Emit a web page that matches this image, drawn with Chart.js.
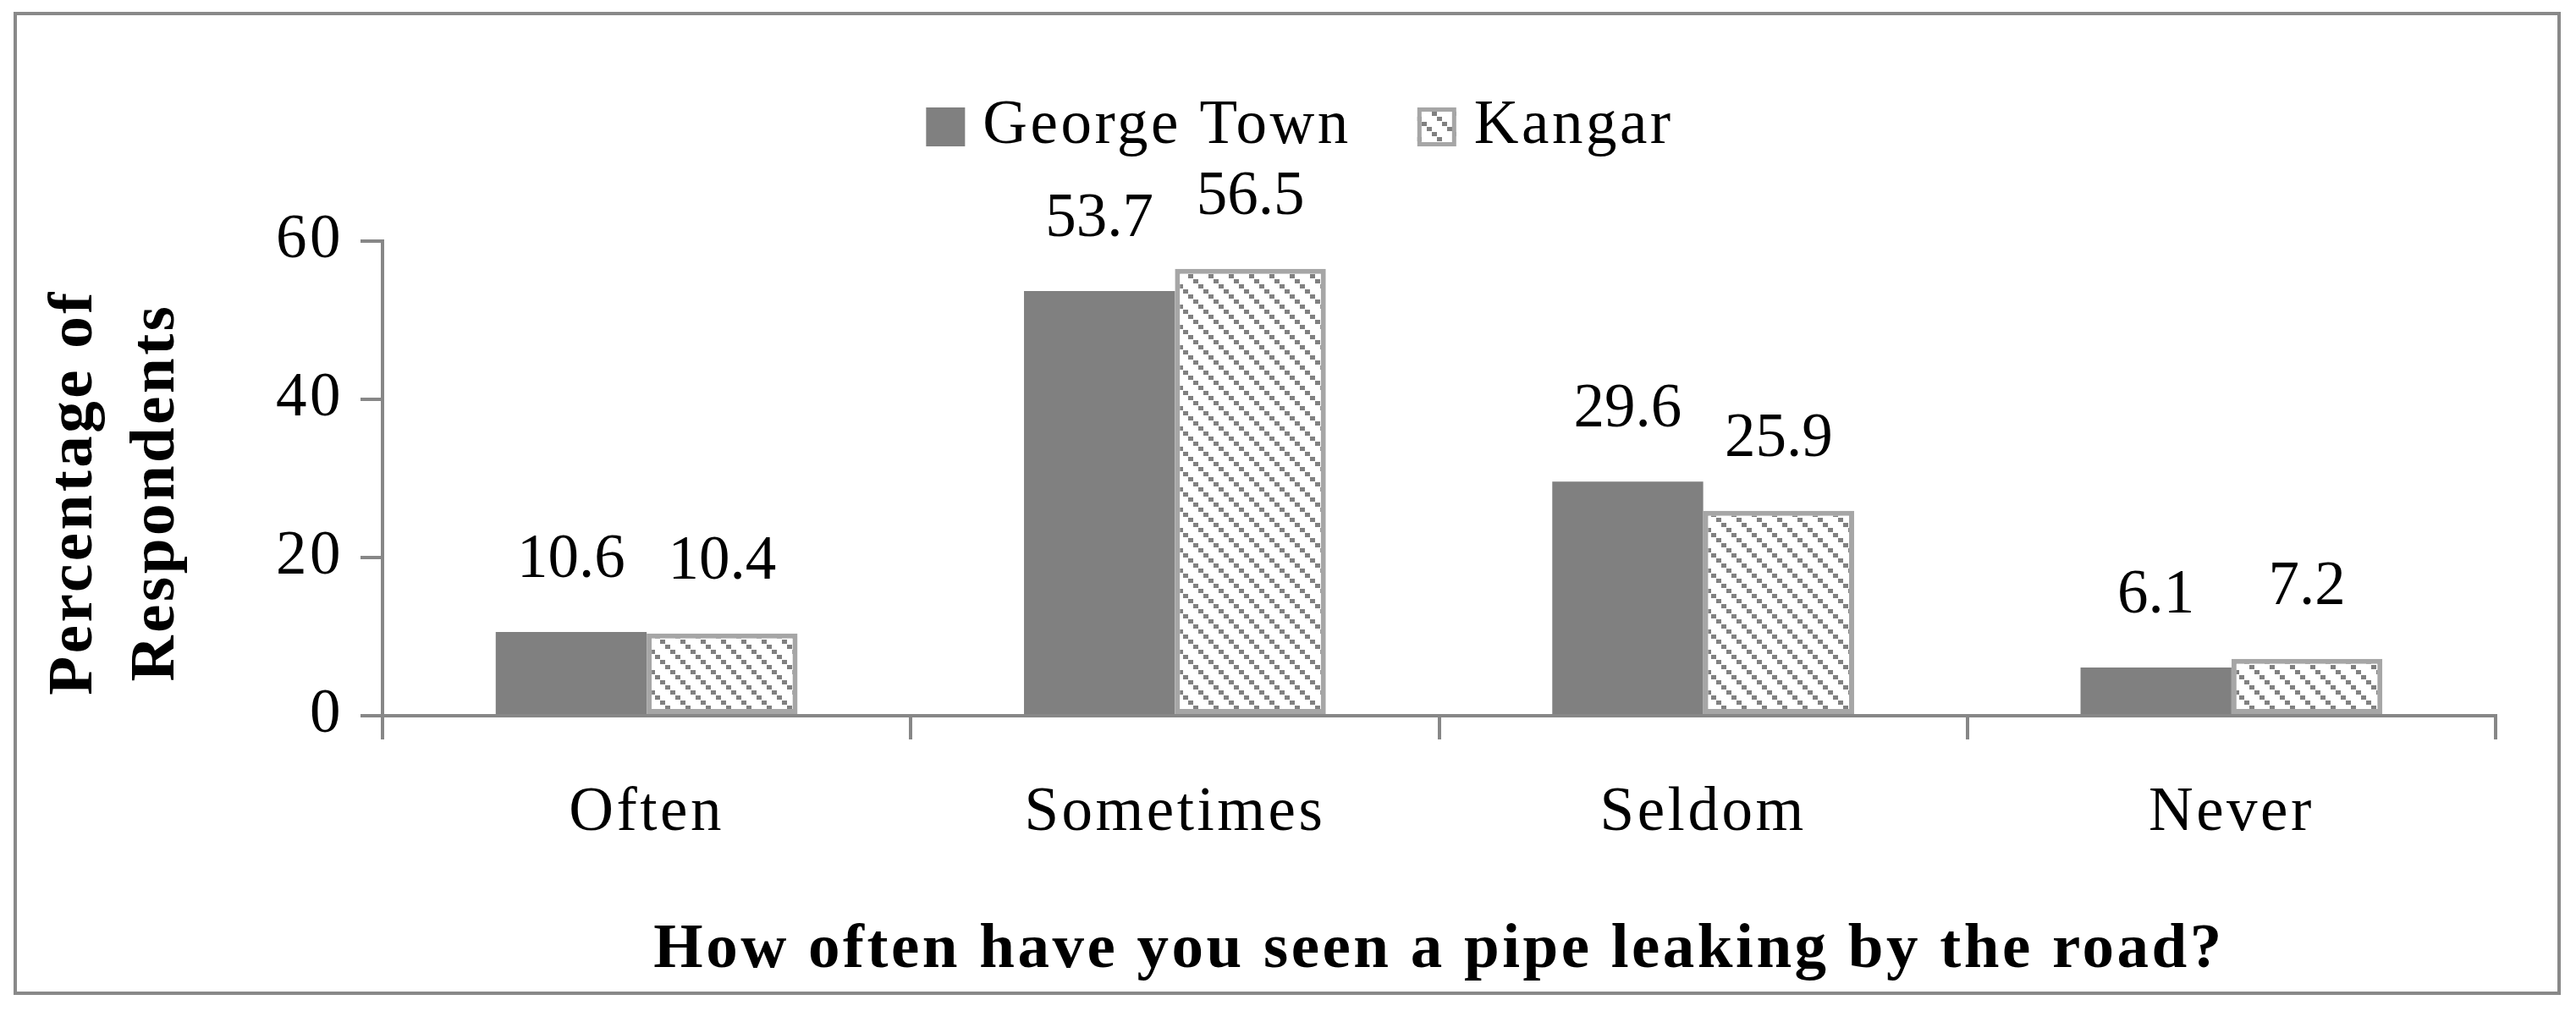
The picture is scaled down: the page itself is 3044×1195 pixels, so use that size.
<!DOCTYPE html>
<html>
<head>
<meta charset="utf-8">
<script src="https://cdn.jsdelivr.net/npm/chart.js@4.4.0/dist/chart.umd.min.js"></script>
<style>
  html, body { margin: 0; padding: 0; background: #fff; }
  #wrap { width: 3044px; height: 1195px; }
</style>
</head>
<body>
<div id="wrap"><canvas id="chartLeaks"></canvas></div>
<script>
var categories = ['Often', 'Sometimes', 'Seldom', 'Never']
var georgeTown = [10.6, 53.7, 29.6, 6.1]
var kangar = [10.4, 56.5, 25.9, 7.2]
var yTicks = [0, 20, 40, 60]
var yTitle = ['Percentage of', 'Respondents']

var FONT = '"Liberation Serif", "Times New Roman", serif'
var AXIS = '#878787'

var ctx = document.getElementById('chartLeaks').getContext('2d')

// diagonal hatch for Kangar bars
function hatch() {
  var c = document.createElement('canvas')
  c.width = 24
  c.height = 24
  var g = c.getContext('2d')
  g.fillStyle = '#fff'
  g.fillRect(0, 0, 24, 24)
  g.fillStyle = '#808080'
  for (var i = 0; i < 4; i++) {
    g.fillRect(i * 6, i * 6, 6, 5)
  }
  return ctx.createPattern(c, 'repeat')
}

// white page, outer frame; wider letter spacing to get closer to the original serif
var frame = {
  id: 'frame',
  beforeDraw: function (chart) {
    var c = chart.ctx
    c.save()
    c.fillStyle = '#fff'
    c.fillRect(0, 0, chart.width, chart.height)
    c.strokeStyle = '#898989'
    c.lineWidth = 4
    c.strokeRect(18, 16, chart.width - 38, chart.height - 37)
    c.restore()
    c.letterSpacing = '3.5px'
  }
}

var legendBoxes = {
  id: 'legendBoxes',
  afterDraw: function (chart) {
    var c = chart.ctx
    var sets = chart.data.datasets
    c.save()
    c.letterSpacing = '3.5px'
    c.font = '73px ' + FONT
    var box = 46, gap = 21, space = 78
    var total = 0
    sets.forEach(function (d, i) {
      total += box + gap + c.measureText(d.label).width + (i ? space : 0)
    })
    var x = chart.width / 2 - total / 2 + 14
    var cy = 150
    sets.forEach(function (d) {
      c.fillStyle = d.backgroundColor
      c.fillRect(x, cy - box / 2, box, box)
      if (d.borderWidth) {
        c.lineWidth = 5
        c.strokeStyle = d.borderColor
        c.strokeRect(x + 2.5, cy - box / 2 + 2.5, box - 5, box - 5)
      }
      c.fillStyle = '#000'
      c.textBaseline = 'middle'
      c.textAlign = 'left'
      c.fillText(d.label, x + box + gap, cy)
      x += box + gap + c.measureText(d.label).width + space
    })
    c.restore()
  }
}

// y title, centred a little below the plot middle like the original
var yTitleText = {
  id: 'yTitleText',
  afterDraw: function (chart) {
    var c = chart.ctx
    c.save()
    c.letterSpacing = '3.5px'
    c.font = 'bold 75px ' + FONT
    c.fillStyle = '#000'
    c.textAlign = 'center'
    c.textBaseline = 'middle'
    c.translate(0, 582)
    c.rotate(-Math.PI / 2)
    yTitle.forEach(function (t, i) {
      c.fillText(t, 0, 89 + i * 97)
    })
    c.restore()
  }
}

var valueLabels = {
  id: 'valueLabels',
  afterDatasetsDraw: function (chart) {
    var c = chart.ctx
    var y = chart.scales.y
    c.save()
    c.letterSpacing = '0px'
    c.font = '73px ' + FONT
    c.fillStyle = '#000'
    c.textAlign = 'center'
    c.textBaseline = 'middle'
    chart.data.datasets.forEach(function (d, k) {
      chart.getDatasetMeta(k).data.forEach(function (bar, i) {
        c.fillText(d.data[i].toFixed(1), bar.x, y.getPixelForValue(d.data[i]) - 84)
      })
    })
    c.restore()
  }
}

var chart = new Chart(ctx, {
  type: 'bar',
  data: {
    labels: categories,
    datasets: [
      {
        label: 'George Town',
        data: georgeTown,
        backgroundColor: '#808080',
        borderWidth: 0,
        categoryPercentage: 0.5714,
        barPercentage: 1,
      },
      {
        label: 'Kangar',
        data: kangar,
        backgroundColor: hatch(),
        borderColor: '#A6A6A6',
        borderWidth: 6,
        borderSkipped: false,
        categoryPercentage: 0.5714,
        barPercentage: 1,
      },
    ],
  },
  options: {
    responsive: true,
    maintainAspectRatio: false,
    animation: false,
    layout: { padding: { top: 285, right: 95, bottom: 0, left: 0 } },
    plugins: {
      legend: { display: false },
      tooltip: { enabled: false },
    },
    scales: {
      x: {
        grid: { display: true, drawOnChartArea: false, drawTicks: true, tickLength: 28, color: AXIS, lineWidth: 4, offset: true },
        border: { display: true, color: AXIS, width: 4 },
        ticks: { color: '#000', font: { family: FONT, size: 73 }, padding: 44 },
        title: {
          display: true,
          text: 'How often have you seen a pipe leaking by the road?',
          color: '#000',
          font: { family: FONT, size: 75, weight: 'bold' },
          padding: { top: 0, bottom: 26 },
        },
        afterFit: function (s) { s.height = 349 },
      },
      y: {
        min: 0,
        max: 60,
        afterBuildTicks: function (s) {
          s.ticks = yTicks.map(function (v) { return { value: v } })
        },
        ticks: { color: '#000', font: { family: FONT, size: 73 }, padding: 20 },
        grid: { drawOnChartArea: false, drawTicks: true, tickLength: 26, color: AXIS, lineWidth: 4 },
        border: { display: true, color: AXIS, width: 4 },
        afterFit: function (s) { s.width = 452 },
      },
    },
  },
  plugins: [frame, legendBoxes, yTitleText, valueLabels],
})
</script>
</body>
</html>
